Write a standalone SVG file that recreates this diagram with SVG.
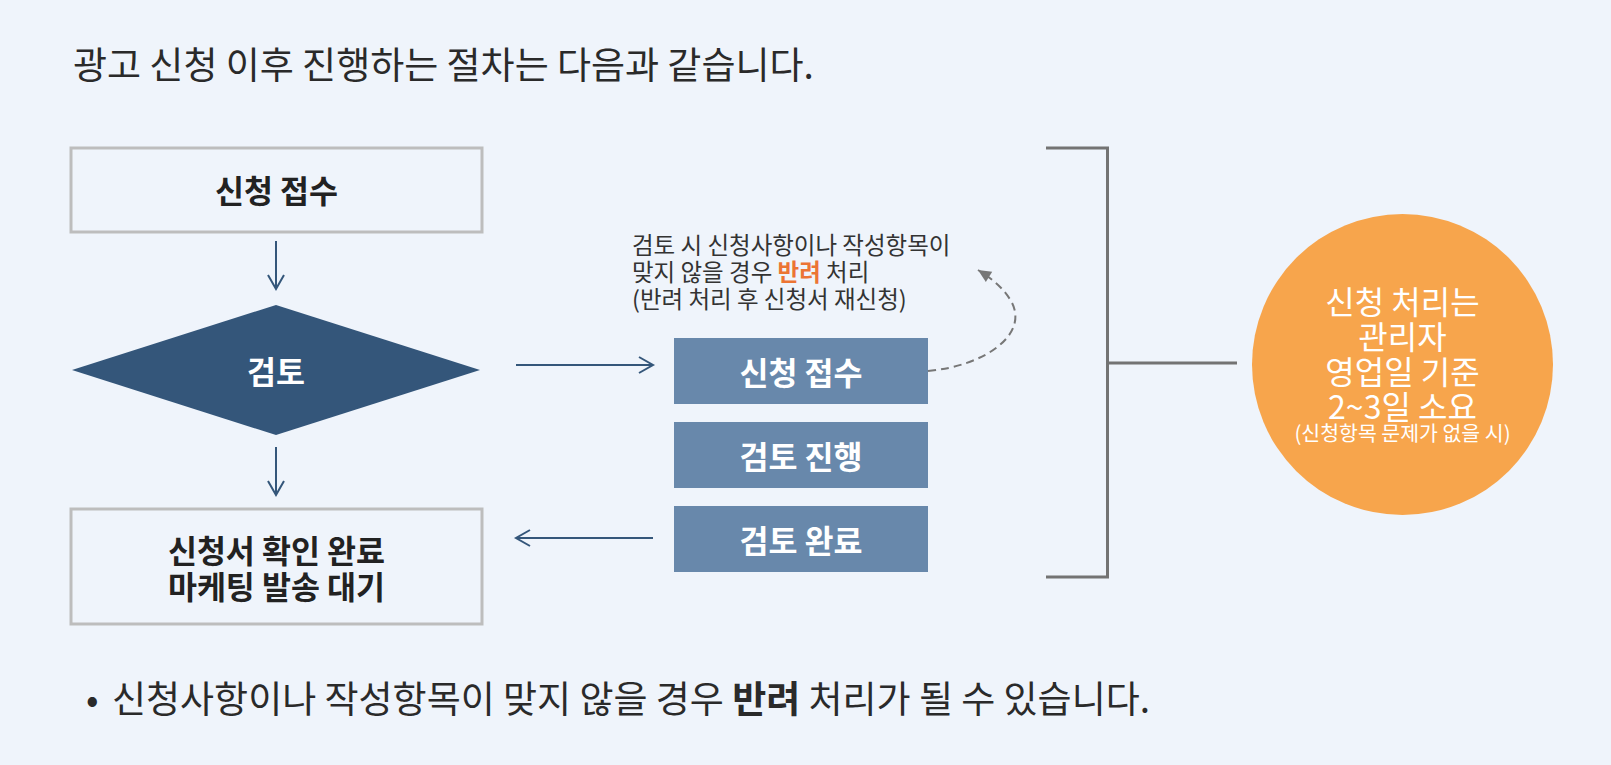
<svg xmlns="http://www.w3.org/2000/svg" width="1611" height="765" viewBox="0 0 1611 765">
<defs>
<style>
text{font-family:"Noto Sans CJK KR","Noto Sans",sans-serif;}
.lbl{font-size:31.5px;font-weight:bold;text-anchor:middle;dominant-baseline:central;}
.dark{fill:#222222;}
.white{fill:#ffffff;}
.wbox{fill:none;stroke:#bdbdbd;stroke-width:3;}
.bbox{fill:#6888ab;}
.conn{fill:none;stroke:#34567a;stroke-width:2;}
.big{font-size:37px;fill:#2a2a2a;dominant-baseline:central;}
.note{font-size:23.5px;fill:#333333;dominant-baseline:central;}
.circ{font-size:32px;fill:#ffffff;text-anchor:middle;dominant-baseline:central;}
</style>
<marker id="chev" markerUnits="userSpaceOnUse" markerWidth="20" markerHeight="20" viewBox="-16 -10 20 20" refX="0" refY="0" orient="auto">
<polyline points="-14,-8 0,0 -14,8" fill="none" stroke="#34567a" stroke-width="2"/>
</marker>
<marker id="tri" markerUnits="userSpaceOnUse" markerWidth="16" markerHeight="16" viewBox="-14 -8 16 16" refX="0" refY="0" orient="auto">
<polygon points="-13,-6 0,0 -13,6" fill="#777777"/>
</marker>
</defs>
<rect x="0" y="0" width="1611" height="765" fill="#eff4fb"/>

<g id="title">
<text class="big" x="73" y="63">광고 신청 이후 진행하는 절차는 다음과 같습니다.</text>
</g>

<g id="node-apply">
<rect class="wbox" x="71" y="148" width="411" height="84"/>
<text class="lbl dark" x="276.5" y="189">신청 접수</text>
</g>

<g id="node-review">
<polygon points="276,305 480,370 276,435 72,370" fill="#34567a"/>
<text class="lbl white" x="276" y="370">검토</text>
</g>

<g id="node-done">
<rect class="wbox" x="71" y="509" width="411" height="115"/>
<text class="lbl dark" x="276.5" y="549">신청서 확인 완료</text>
<text class="lbl dark" x="276.5" y="585">마케팅 발송 대기</text>
</g>

<g id="step-1">
<rect class="bbox" x="674" y="338" width="254" height="66"/>
<text class="lbl white" x="801" y="371">신청 접수</text>
</g>
<g id="step-2">
<rect class="bbox" x="674" y="422" width="254" height="66"/>
<text class="lbl white" x="801" y="455">검토 진행</text>
</g>
<g id="step-3">
<rect class="bbox" x="674" y="506" width="254" height="66"/>
<text class="lbl white" x="801" y="539">검토 완료</text>
</g>

<g id="note">
<text class="note" x="632" y="244">검토 시 신청사항이나 작성항목이</text>
<text class="note" x="632" y="271">맞지 않을 경우 <tspan fill="#ec7434" font-weight="bold">반려</tspan> 처리</text>
<text class="note" x="632" y="298">(반려 처리 후 신청서 재신청)</text>
</g>

<g id="bracket">
<polyline points="1046,148 1107.5,148 1107.5,577 1046,577" fill="none" stroke="#737373" stroke-width="3"/>
<line x1="1107.5" y1="363" x2="1237" y2="363" stroke="#737373" stroke-width="3"/>
</g>

<g id="node-time">
<circle cx="1402.5" cy="364.5" r="150.5" fill="#f7a54c"/>
<text class="circ" x="1402.5" y="300">신청 처리는</text>
<text class="circ" x="1402.5" y="335">관리자</text>
<text class="circ" x="1402.5" y="370">영업일 기준</text>
<text class="circ" x="1402.5" y="405">2~3일 소요</text>
<text class="circ" x="1402.5" y="432" style="font-size:20.5px">(신청항목 문제가 없을 시)</text>
</g>

<g id="connectors">
<line class="conn" x1="276" y1="241" x2="276" y2="289" marker-end="url(#chev)"/>
<line class="conn" x1="276" y1="447" x2="276" y2="495" marker-end="url(#chev)"/>
<line class="conn" x1="516" y1="365" x2="653" y2="365" marker-end="url(#chev)"/>
<line class="conn" x1="653" y1="538" x2="516" y2="538" marker-end="url(#chev)"/>
<path d="M 928 371 C 985 366, 1030 334, 1011 301 C 1004 289, 994 280, 978 270" fill="none" stroke="#777777" stroke-width="2" stroke-dasharray="8 5" marker-end="url(#tri)"/>
</g>

<g id="footnote">
<text class="big" x="86" y="697">•</text>
<text class="big" x="112" y="697">신청사항이나 작성항목이 맞지 않을 경우 <tspan font-weight="bold">반려</tspan> 처리가 될 수 있습니다.</text>
</g>
</svg>
